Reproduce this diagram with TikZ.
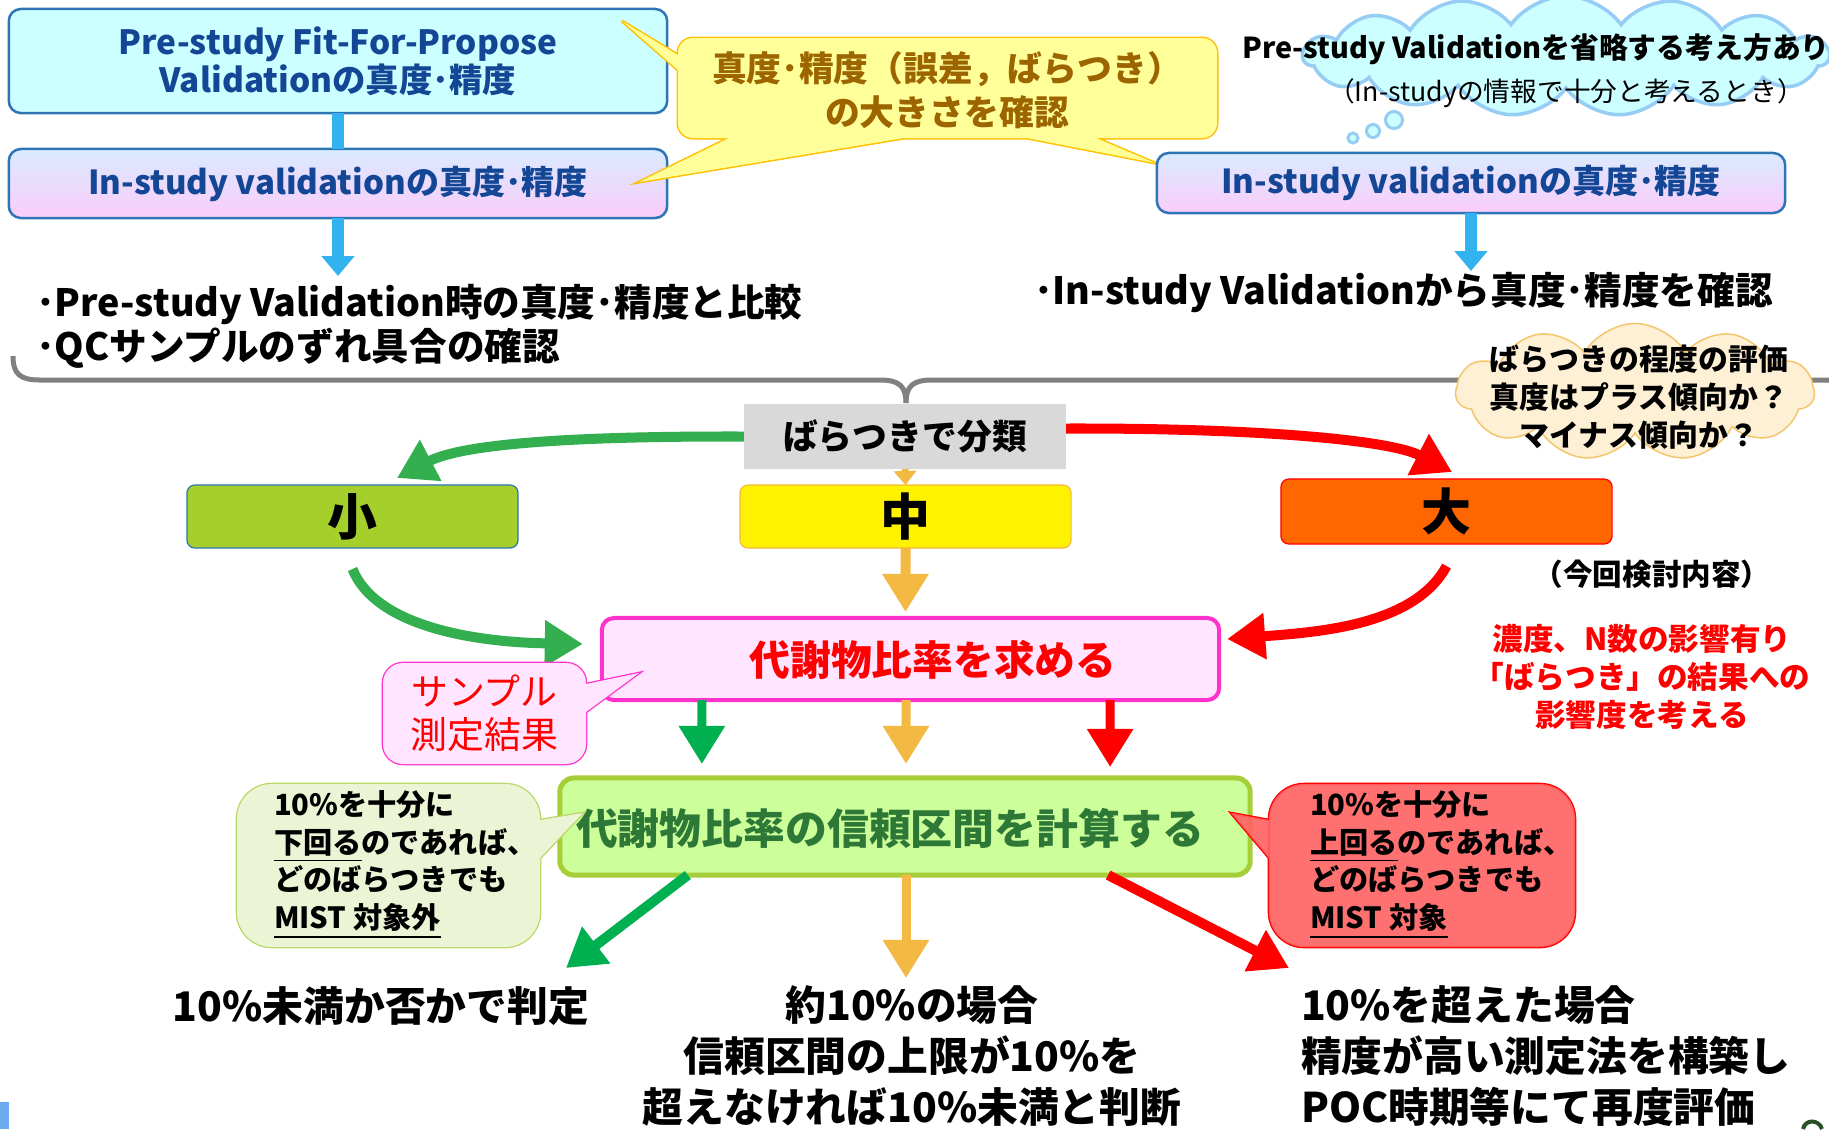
\documentclass[tikz,border=0pt]{standalone}
\usepackage{fontspec}
\setmainfont{Noto Sans CJK JP}
\usetikzlibrary{arrows.meta,shapes.symbols}
\definecolor{bxblue}{RGB}{46,117,182}
\definecolor{txblue}{RGB}{20,70,150}
\definecolor{cyanfill}{RGB}{204,255,255}
\definecolor{arrblue}{RGB}{51,178,240}
\definecolor{yelfill}{RGB}{255,255,153}
\definecolor{yeldraw}{RGB}{255,192,0}
\definecolor{yeltext}{RGB}{156,101,0}
\definecolor{cloudblue}{RGB}{150,205,245}
\definecolor{graybox}{RGB}{217,217,217}
\definecolor{brackgray}{RGB}{128,128,128}
\definecolor{greenA}{RGB}{51,175,80}
\definecolor{greenB}{RGB}{0,176,80}
\definecolor{orangeA}{RGB}{244,185,66}
\definecolor{smallfill}{RGB}{165,207,42}
\definecolor{bigfill}{RGB}{255,102,0}
\definecolor{pinkfill}{RGB}{255,229,255}
\definecolor{pinkdraw}{RGB}{255,51,204}
\definecolor{lgfill}{RGB}{204,255,153}
\definecolor{lgdraw}{RGB}{166,206,57}
\definecolor{lgtext}{RGB}{45,120,55}
\definecolor{gcfill}{RGB}{235,245,214}
\definecolor{gcdraw}{RGB}{185,215,100}
\definecolor{rcfill}{RGB}{255,100,100}
\definecolor{peachfill}{RGB}{253,240,213}
\definecolor{peachdraw}{RGB}{245,197,107}
\definecolor{instop}{RGB}{218,235,255}
\definecolor{insbot}{RGB}{250,204,250}
\definecolor{cornerblue}{RGB}{110,170,240}
\definecolor{pagegreen}{RGB}{40,80,40}
\begin{document}
\begin{tikzpicture}[x=0.01cm,y=-0.01cm,
  every node/.style={inner sep=0pt,outer sep=0pt},
  boxA/.style={draw=bxblue,line width=0.025cm,rounded corners=0.12cm},
  insbox/.style={boxA,top color=instop,bottom color=insbot,text=txblue,font=\bfseries\fontsize{9.4}{11}\selectfont},
  bluearrow/.style={arrblue,line width=0.12cm,-{Triangle[width=0.32cm,length=0.2cm]}},
  bigarrow/.style={line width=0.1cm,-{Triangle[width=0.44cm,length=0.38cm]}},
  levelbox/.style={line width=0.012cm,rounded corners=0.08cm,minimum width=3.31cm,font=\bfseries\fontsize{14.2}{16}\selectfont},
  calltext/.style={align=left,anchor=west,font=\bfseries\fontsize{8.3}{10.8}\selectfont},
  bullet/.style={anchor=west,font=\bfseries\fontsize{10.7}{12}\selectfont},
  bottext/.style={font=\bfseries\fontsize{11.6}{14.4}\selectfont}
]
\useasboundingbox[fill=white] (0,0) rectangle (1829,1129);

% ---------- top left ----------
\node[boxA,fill=cyanfill,minimum width=6.58cm,minimum height=1.04cm,text=txblue,
      font=\bfseries\fontsize{9.5}{10.8}\selectfont,align=center] (pre) at (338,61)
      {Pre-study Fit-For-Propose\\Validationの真度･精度};
\node[insbox,minimum width=6.58cm,minimum height=0.69cm] (ins1) at (338,183.5)
      {In-study validationの真度･精度};
\draw[arrblue,line width=0.12cm] (pre.south) -- (ins1.north);
\coordinate (ins1tip) at (338,276);
\draw[bluearrow] (ins1.south) -- (ins1tip);

\node[bullet] (bulA) at (36,304) {･Pre-study Validation時の真度･精度と比較};
\node[bullet] (bulB) at (36,348) {･QCサンプルのずれ具合の確認};

% ---------- yellow callout ----------
\path[fill=yelfill,preaction={draw=yeldraw,line width=0.03cm}]
  [rounded corners=0.15cm] (678,38) rectangle (1217,138)
  [sharp corners] (622,21) -- (678,55) -- (678,70) -- cycle
  (639,182) -- (729,138) -- (904,138) -- cycle
  (1155,163) -- (1027,138) -- (1096,138) -- cycle;
\node[text=yeltext,align=center,font=\bfseries\fontsize{9.9}{12.5}\selectfont] (ycall) at (947,90)
      {真度･精度（誤差，ばらつき）\\の大きさを確認};

% ---------- top right ----------
\node[cloud,cloud puffs=15,cloud puff arc=110,cloud ignores aspect,minimum width=5.25cm,
      minimum height=1.2cm,fill=cyanfill,draw=cloudblue,line width=0.035cm] (cloudA) at (1566,56) {};
\node[circle,minimum size=0.1cm,fill=cyanfill,draw=cloudblue,line width=0.03cm] (tb1) at (1353,138) {};
\node[circle,minimum size=0.13cm,fill=cyanfill,draw=cloudblue,line width=0.03cm] (tb2) at (1373,131) {};
\node[circle,minimum size=0.17cm,fill=cyanfill,draw=cloudblue,line width=0.03cm] (tb3) at (1394,120) {};
\node[font=\bfseries\fontsize{8.2}{10}\selectfont] (cloudAa) at (1536,49)
      {Pre-study Validationを省略する考え方あり};
\node[font=\fontsize{7.6}{10}\selectfont] (cloudAb) at (1566,93)
      {（In-studyの情報で十分と考えるとき）};

\node[insbox,minimum width=6.28cm,minimum height=0.6cm] (ins2) at (1471,183)
      {In-study validationの真度･精度};
\coordinate (ins2tip) at (1471,271);
\draw[bluearrow] (ins2.south) -- (ins2tip);
\node[bullet] (bulC) at (1034,293) {･In-study Validationから真度･精度を確認};

% ---------- bracket ----------
\coordinate (brR) at (1829,380);
\coordinate (brL) at (13,356);
\coordinate (brC) at (906,403);
\draw[brackgray,line width=0.05cm] (brL) .. controls (13,374) and (20,380) .. (40,380)
   -- (880,380) .. controls (899,380) and (906,386) .. (brC);
\draw[brackgray,line width=0.05cm] (brR) -- (932,380) .. controls (913,380) and (906,386) .. (brC);

% ---------- classification ----------
\node[fill=graybox,minimum width=3.22cm,minimum height=0.65cm,
      font=\bfseries\fontsize{9.9}{12}\selectfont] (gray) at (905,436.5) {ばらつきで分類};

\node[cloud,cloud puffs=11,cloud puff arc=120,cloud ignores aspect,minimum width=3.58cm,
      minimum height=1.37cm,fill=peachfill,draw=peachdraw,line width=0.015cm] (cloudB) at (1635,392) {};
\node[align=center,font=\bfseries\fontsize{8.5}{10.9}\selectfont] (cloudBt) at (1639,397)
      {ばらつきの程度の評価\\真度はプラス傾向か？\\マイナス傾向か？};

\node[levelbox,fill=smallfill,draw=bxblue,minimum height=0.63cm] (small) at (352.5,516.5) {小};
\node[levelbox,fill=yellow,draw=orangeA,minimum height=0.63cm] (mid) at (905.5,516.5) {中};
\node[levelbox,fill=bigfill,draw=red,minimum height=0.65cm] (big) at (1446.5,511.5) {大};

\node[font=\bfseries\fontsize{8.4}{9}\selectfont] (kaiko) at (1652,574) {（今回検討内容）};
\node[text=red,align=center,font=\bfseries\fontsize{8.7}{10.8}\selectfont] (note) at (1642,677)
      {濃度、N数の影響有り\\「ばらつき」の結果への\\影響度を考える};

\draw[bigarrow,greenA] (gray.west) .. controls (560,436) and (460,445) .. ([xshift=0.445cm,yshift=0.07cm]small.north);
\draw[bigarrow,red] ([yshift=0.08cm]gray.east) .. controls (1260,428) and (1390,440) .. ([xshift=0.055cm,yshift=0.07cm]big.north);
\draw[orangeA,line width=0.07cm,-{Triangle[width=0.22cm,length=0.14cm]}] (gray.south) -- (mid.north);

% ---------- ratio ----------
\node[fill=pinkfill,draw=pinkdraw,line width=0.04cm,rounded corners=0.12cm,minimum width=6.17cm,
      minimum height=0.82cm] (ratio) at (910.5,659) {};
\node[text=red,font=\bfseries\fontsize{11.6}{13}\selectfont] (ratiot) at (933,660) {代謝物比率を求める};

\draw[bigarrow,greenA] ([yshift=-0.21cm]small.south) .. controls (375,625) and (470,642) .. ([xshift=-0.19cm,yshift=0.15cm]ratio.west);
\draw[bigarrow,orangeA] (mid.south) -- ([xshift=-0.05cm,yshift=0.06cm]ratio.north);
\draw[bigarrow,red] ([yshift=-0.22cm]big.south) .. controls (1415,625) and (1320,632) .. ([xshift=0.08cm,yshift=0.2cm]ratio.east);

\path[fill=pinkfill,preaction={draw=pinkdraw,line width=0.026cm}]
  [rounded corners=0.2cm] (383,663) rectangle (586,764)
  [sharp corners] (639,673) -- (586,684) -- (586,712) -- cycle;
\node[text=red,align=center,font=\fontsize{10.5}{12.2}\selectfont] (sample) at (484.5,713.5)
      {サンプル\\測定結果};

% ---------- confidence interval ----------
\node[fill=lgfill,draw=lgdraw,line width=0.05cm,rounded corners=0.14cm,minimum width=6.9cm,
      minimum height=0.97cm] (ci) at (905,826.5) {};
\node[text=lgtext,font=\bfseries\fontsize{11.9}{14}\selectfont] (cit) at (890,828)
      {代謝物比率の信頼区間を計算する};

\draw[bigarrow,greenB,line width=0.09cm] ([xshift=-2.085cm]ratio.south) -- ([xshift=-2.03cm,yshift=0.14cm]ci.north);
\draw[bigarrow,orangeA,line width=0.09cm] ([xshift=-0.045cm]ratio.south) -- ([xshift=0.01cm,yshift=0.14cm]ci.north);
\draw[bigarrow,red,line width=0.09cm] ([xshift=1.995cm]ratio.south) -- ([xshift=2.05cm,yshift=0.11cm]ci.north);

\path[fill=gcfill,preaction={draw=gcdraw,line width=0.026cm}]
  [rounded corners=0.35cm] (237,784) rectangle (540,947)
  [sharp corners] (583,813) -- (540,820) -- (540,858) -- cycle;
\node[calltext] (gcall) at (274,864.5)
      {10\%を十分に\\\underline{下回る}のであれば、\\どのばらつきでも\\\underline{MIST 対象外}};

\path[fill=rcfill,fill opacity=0.92,preaction={draw=red,line width=0.026cm}]
  [rounded corners=0.35cm] (1269,784) rectangle (1575,947)
  [sharp corners] (1231,813) -- (1269,820) -- (1269,858) -- cycle;
\node[calltext] (rcall) at (1310,864.5)
      {10\%を十分に\\\underline{上回る}のであれば、\\どのばらつきでも\\\underline{MIST 対象}};

% ---------- results ----------
\node[bottext] (botA) at (381,1006) {10\%未満か否かで判定};
\node[bottext,align=center] (botB) at (912,1056)
      {約10\%の場合\\信頼区間の上限が10\%を\\超えなければ10\%未満と判断};
\node[bottext,align=left,anchor=west] (botC) at (1301,1056)
      {10\%を超えた場合\\精度が高い測定法を構築し\\POC時期等にて再度評価};

\coordinate (tipA) at (566,968);
\coordinate (tipB) at (906,978);
\coordinate (tipC) at (1289,968);
\draw[bigarrow,greenB] ([xshift=-2.17cm]ci.south) -- (tipA);
\draw[bigarrow,orangeA,line width=0.09cm] ([xshift=0.01cm]ci.south) -- (tipB);
\draw[bigarrow,red] ([xshift=2.03cm]ci.south) -- (tipC);

% ---------- page decorations ----------
\fill[cornerblue] (0,1102) rectangle (9,1129);
\draw[pagegreen,line width=0.04cm] (1803,1129) .. controls (1805,1119) and (1819,1119) .. (1822,1129);
\end{tikzpicture}
\end{document}
